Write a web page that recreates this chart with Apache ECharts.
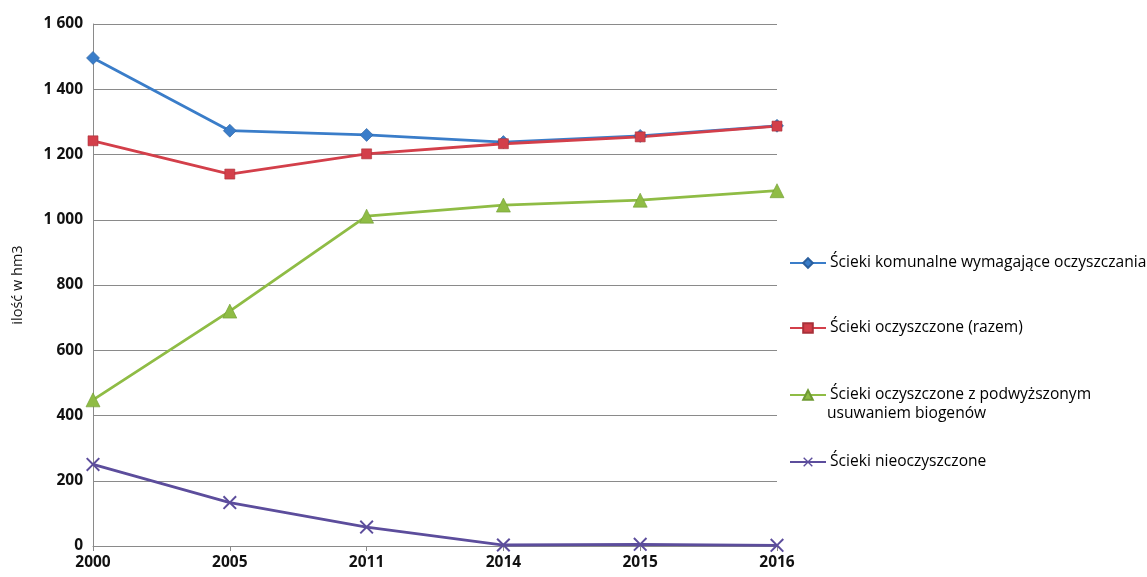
<!DOCTYPE html>
<html>
<head>
<meta charset="utf-8">
<script src="https://cdn.jsdelivr.net/npm/echarts@6/dist/echarts.min.js"></script>
<style>
  html, body { margin: 0; padding: 0; background: #fff; }
  #chart { width: 1147px; height: 577px; }
</style>
</head>
<body>
<div id="chart"></div>
<script>
// Lata pomiarów
const years = ['2000', '2005', '2011', '2014', '2015', '2016'];

// Ilość ścieków, hm3
const komunalne = [1496, 1273, 1260, 1238, 1257, 1288];
const oczyszczoneRazem = [1242, 1140, 1202, 1233, 1254, 1287];
const podwyzszone = [448, 720, 1011, 1045, 1060, 1089];
const nieoczyszczone = [250, 133, 58, 3, 5, 2];

const seriesNames = [
  'Ścieki komunalne wymagające oczyszczania',
  'Ścieki oczyszczone (razem)',
  'Ścieki oczyszczone z podwyższonym usuwaniem biogenów',
  'Ścieki nieoczyszczone'
];

const colors = ['#3a7dc9', '#d33f4a', '#8fbc45', '#5c4d9c'];
const crossPath = 'path://M0,1L1,0L5,4L9,0L10,1L6,5L10,9L9,10L5,6L1,10L0,9L4,5Z';

const chart = echarts.init(document.getElementById('chart'));

const fontFamily = 'Open Sans, Noto Sans, sans-serif';
const legendFont = 15.6;

function legendAt(name, top, label) {
  return {
    data: [name],
    left: 784,
    top: top,
    itemWidth: 36,
    itemHeight: 12,
    itemGap: 0,
    textStyle: { fontFamily: fontFamily, fontSize: legendFont, color: '#000', padding: [0, 0, 0, -1] },
    formatter: label ? () => label : undefined,
    selectedMode: false
  };
}

function fmt(v) {
  return String(v).replace(/\B(?=(\d{3})+(?!\d))/g, ' ');
}

chart.setOption({
  animation: false,
  backgroundColor: '#fff',
  grid: { left: 93, right: 370, top: 24, bottom: 31, containLabel: false },
  legend: [
    legendAt(seriesNames[0], 250),
    legendAt(seriesNames[1], 315),
    legendAt(seriesNames[2], 382, 'Ścieki oczyszczone z podwyższonym'),
    legendAt(seriesNames[3], 449)
  ],
  graphic: [{
    type: 'text',
    left: 827,
    top: 406,
    style: { text: 'usuwaniem biogenów', fontFamily: fontFamily, fontSize: legendFont, fill: '#000' }
  }],
  xAxis: {
    type: 'category',
    data: years,
    boundaryGap: false,
    axisLine: { lineStyle: { color: '#8a8a8a', width: 1 } },
    axisTick: { show: true, alignWithLabel: true, length: 5, lineStyle: { color: '#8a8a8a' } },
    axisLabel: { fontFamily: fontFamily, fontSize: 15.5, fontWeight: 'bold', color: '#111', margin: 9 },
    splitLine: { show: false }
  },
  yAxis: {
    type: 'value',
    min: 0,
    max: 1600,
    interval: 200,
    name: 'ilość w hm3',
    nameLocation: 'middle',
    nameGap: 68,
    nameTextStyle: { fontFamily: fontFamily, fontSize: 14.5, color: '#111' },
    axisLine: { show: true, lineStyle: { color: '#8a8a8a', width: 1 } },
    axisTick: { show: false },
    axisLabel: {
      fontFamily: fontFamily, fontSize: 15.5, fontWeight: 'bold', color: '#111', margin: 10,
      formatter: fmt
    },
    splitLine: { lineStyle: { color: '#8a8a8a', width: 1 } }
  },
  series: [
    {
      name: seriesNames[0], type: 'line', data: komunalne,
      symbol: 'diamond', symbolSize: 13,
      lineStyle: { color: colors[0], width: 2.8 },
      itemStyle: { color: colors[0], borderColor: '#2a5f9e', borderWidth: 0.6 }
    },
    {
      name: seriesNames[1], type: 'line', data: oczyszczoneRazem,
      symbol: 'rect', symbolSize: 10,
      lineStyle: { color: colors[1], width: 2.8 },
      itemStyle: { color: colors[1], borderColor: '#a83039', borderWidth: 0.6 }
    },
    {
      name: seriesNames[2], type: 'line', data: podwyzszone,
      symbol: 'triangle', symbolSize: 14,
      lineStyle: { color: colors[2], width: 2.8 },
      itemStyle: { color: colors[2], borderColor: '#6f9a33', borderWidth: 0.6 }
    },
    {
      name: seriesNames[3], type: 'line', data: nieoczyszczone,
      symbol: crossPath, symbolSize: 14,
      lineStyle: { color: colors[3], width: 2.8 },
      itemStyle: { color: colors[3] }
    }
  ]
});
</script>
</body>
</html>
